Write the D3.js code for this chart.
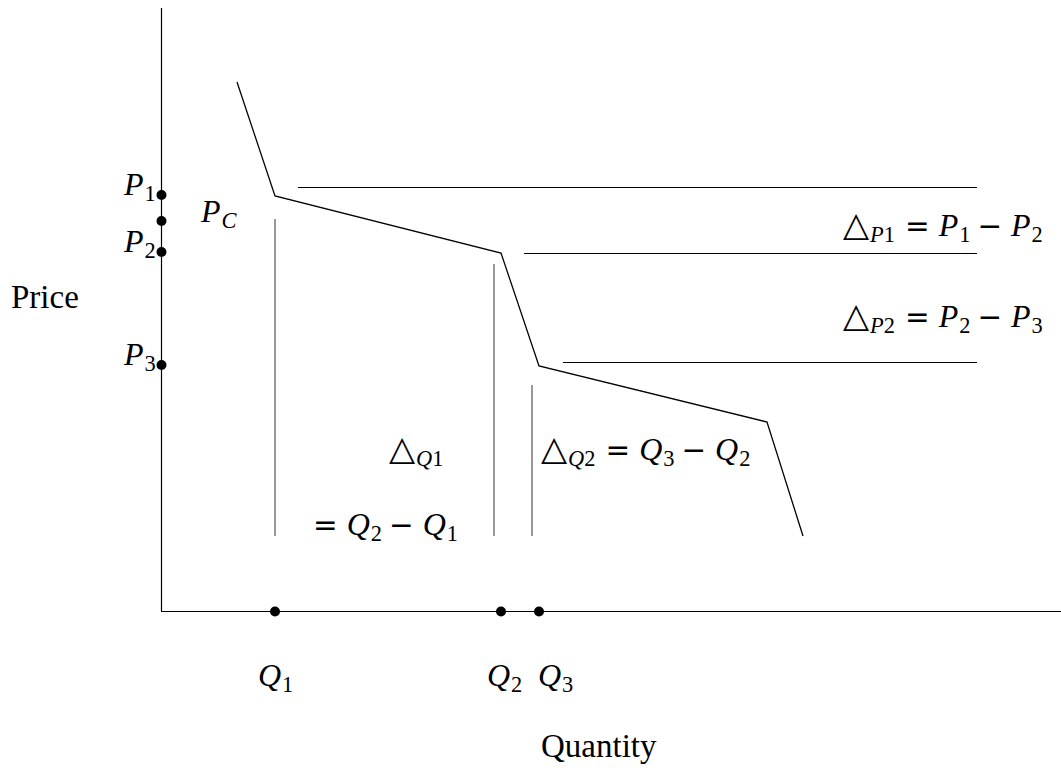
<!DOCTYPE html>
<html>
<head>
<meta charset="utf-8">
<script src="https://cdn.jsdelivr.net/npm/d3@7"></script>
<style>
  html, body { margin: 0; padding: 0; background: #fff; }
  svg { display: block; }
  text { font-family: 'Liberation Serif', 'DejaVu Serif', serif; fill: #000; }
</style>
</head>
<body>
<svg id="chart" width="1061" height="773"></svg>
<script>
// kinked demand curve (quantity, price)
var demandX = [0.76, 1.14, 3.40, 3.78, 6.06, 6.42]
var demandY = [5.29, 4.15, 3.58, 2.45, 1.89, 0.75]

// marked prices on the vertical axis: P1, PC, P2, P3
var priceNames = ['P1', 'PC', 'P2', 'P3']
var priceLevels = [4.16, 3.90, 3.59, 2.46]

// marked quantities on the horizontal axis: Q1, Q2, Q3
var quantityNames = ['Q1', 'Q2', 'Q3']
var quantityLevels = [1.14, 3.40, 3.78]

// horizontal guide lines (price level, start quantity), all ending at guideEnd
var guideY = [4.24, 3.58, 2.49]
var guideStart = [1.37, 3.63, 4.02]
var guideEnd = 8.16

// vertical guide lines (quantity, top price), all ending at dropBottom
var dropX = [1.14, 3.33, 3.71]
var dropTop = [3.92, 3.47, 2.26]
var dropBottom = 0.75

var svg = d3.select('#chart')
var x = d3.scaleLinear().domain([0, 9]).range([161, 1061])
var y = d3.scaleLinear().domain([0, 6.03]).range([611, 8])

// axes, drawn as plain lines
svg.append('line')
  .attr('x1', x(0) + 0.5).attr('x2', x(0) + 0.5)
  .attr('y1', y(0)).attr('y2', y(6.03))
  .attr('stroke', '#000').attr('stroke-width', 1.2)
svg.append('line')
  .attr('x1', x(0)).attr('x2', x(9))
  .attr('y1', y(0) + 0.5).attr('y2', y(0) + 0.5)
  .attr('stroke', '#000').attr('stroke-width', 1.2)

// demand curve
var pts = demandX.map(function (d, i) { return [d, demandY[i]] })
svg.append('path')
  .datum(pts)
  .attr('d', d3.line().x(function (d) { return x(d[0]) }).y(function (d) { return y(d[1]) }))
  .attr('fill', 'none')
  .attr('stroke', '#000')
  .attr('stroke-width', 1.3)

svg.selectAll('.guide')
  .data(guideY)
  .enter().append('line')
  .attr('class', 'guide')
  .attr('x1', function (d, i) { return x(guideStart[i]) })
  .attr('x2', x(guideEnd))
  .attr('y1', function (d) { return y(d) + 0.5 })
  .attr('y2', function (d) { return y(d) + 0.5 })
  .attr('stroke', '#000')
  .attr('stroke-width', 1.1)

svg.selectAll('.drop')
  .data(dropX)
  .enter().append('line')
  .attr('class', 'drop')
  .attr('x1', function (d) { return x(d) })
  .attr('x2', function (d) { return x(d) })
  .attr('y1', function (d, i) { return y(dropTop[i]) })
  .attr('y2', y(dropBottom))
  .attr('stroke', '#444')
  .attr('stroke-width', 1.1)

// dots on the axes
svg.selectAll('.pdot')
  .data(priceLevels)
  .enter().append('circle')
  .attr('cx', x(0) + 0.5)
  .attr('cy', function (d) { return y(d) })
  .attr('r', 5)
svg.selectAll('.qdot')
  .data(quantityLevels)
  .enter().append('circle')
  .attr('cx', function (d) { return x(d) })
  .attr('cy', y(0) + 0.5)
  .attr('r', 5)

// math text: pieces of [text, style, gap]
// i = italic, r = roman, s* = subscript, t = triangle, o = operator
function mathText (px, py, pieces, size) {
  size = size || 32
  var t = svg.append('text').attr('x', px).attr('y', py).style('font-size', size + 'px')
  var down = 0
  pieces.forEach(function (p) {
    var style = p[1]
    var sub = style.charAt(0) === 's'
    var span = t.append('tspan').text(p[0])
    var want = sub ? 6 : 0
    span.attr('dy', want - down)
    if (p[2]) span.attr('dx', p[2])
    down = want
    if (sub) span.style('font-size', (size * 0.7) + 'px')
    if (style === 't') span.style('font-family', 'DejaVu Sans').style('font-size', (size * 1.06) + 'px')
    if (style === 'o') span.style('font-family', 'DejaVu Sans').style('font-size', (size * 0.92) + 'px')
    if (style.indexOf('i') >= 0) span.style('font-style', 'italic')
  })
  return t
}

function nameParts (name) {
  return [[name.charAt(0), 'i'], [name.slice(1), name.slice(1) === 'C' ? 'si' : 'sr', 1]]
}

// price labels (PC sits to the right of the axis)
var priceLabelPos = [[124, 195], [201, 222], [124, 252], [124, 365]]
priceNames.forEach(function (n, i) {
  mathText(priceLabelPos[i][0], priceLabelPos[i][1], nameParts(n))
})

// quantity labels
var quantityLabelX = [258, 487, 538]
quantityNames.forEach(function (n, i) {
  mathText(quantityLabelX[i], 686, nameParts(n))
})

// delta annotations
mathText(843, 236, [['\u25B3', 't'], ['P', 'si', 1], ['1', 'sr'], ['=', 'o', 10], ['P', 'i', 9], ['1', 'sr', 1], ['\u2212', 'o', 7], ['P', 'i', 9], ['2', 'sr', 1]])
mathText(843, 327, [['\u25B3', 't'], ['P', 'si', 1], ['2', 'sr'], ['=', 'o', 10], ['P', 'i', 9], ['2', 'sr', 1], ['\u2212', 'o', 7], ['P', 'i', 9], ['3', 'sr', 1]])
mathText(389, 460, [['\u25B3', 't'], ['Q', 'si', 1], ['1', 'sr']])
mathText(313, 535, [['=', 'o'], ['Q', 'i', 9], ['2', 'sr', 1], ['\u2212', 'o', 7], ['Q', 'i', 9], ['1', 'sr', 1]])
mathText(541, 460, [['\u25B3', 't'], ['Q', 'si', 1], ['2', 'sr'], ['=', 'o', 10], ['Q', 'i', 9], ['3', 'sr', 1], ['\u2212', 'o', 7], ['Q', 'i', 9], ['2', 'sr', 1]])

// axis titles
svg.append('text').attr('x', 11).attr('y', 308).style('font-size', '33px').text('Price')
svg.append('text').attr('x', 541).attr('y', 757).style('font-size', '33px').text('Quantity')
</script>
</body>
</html>
